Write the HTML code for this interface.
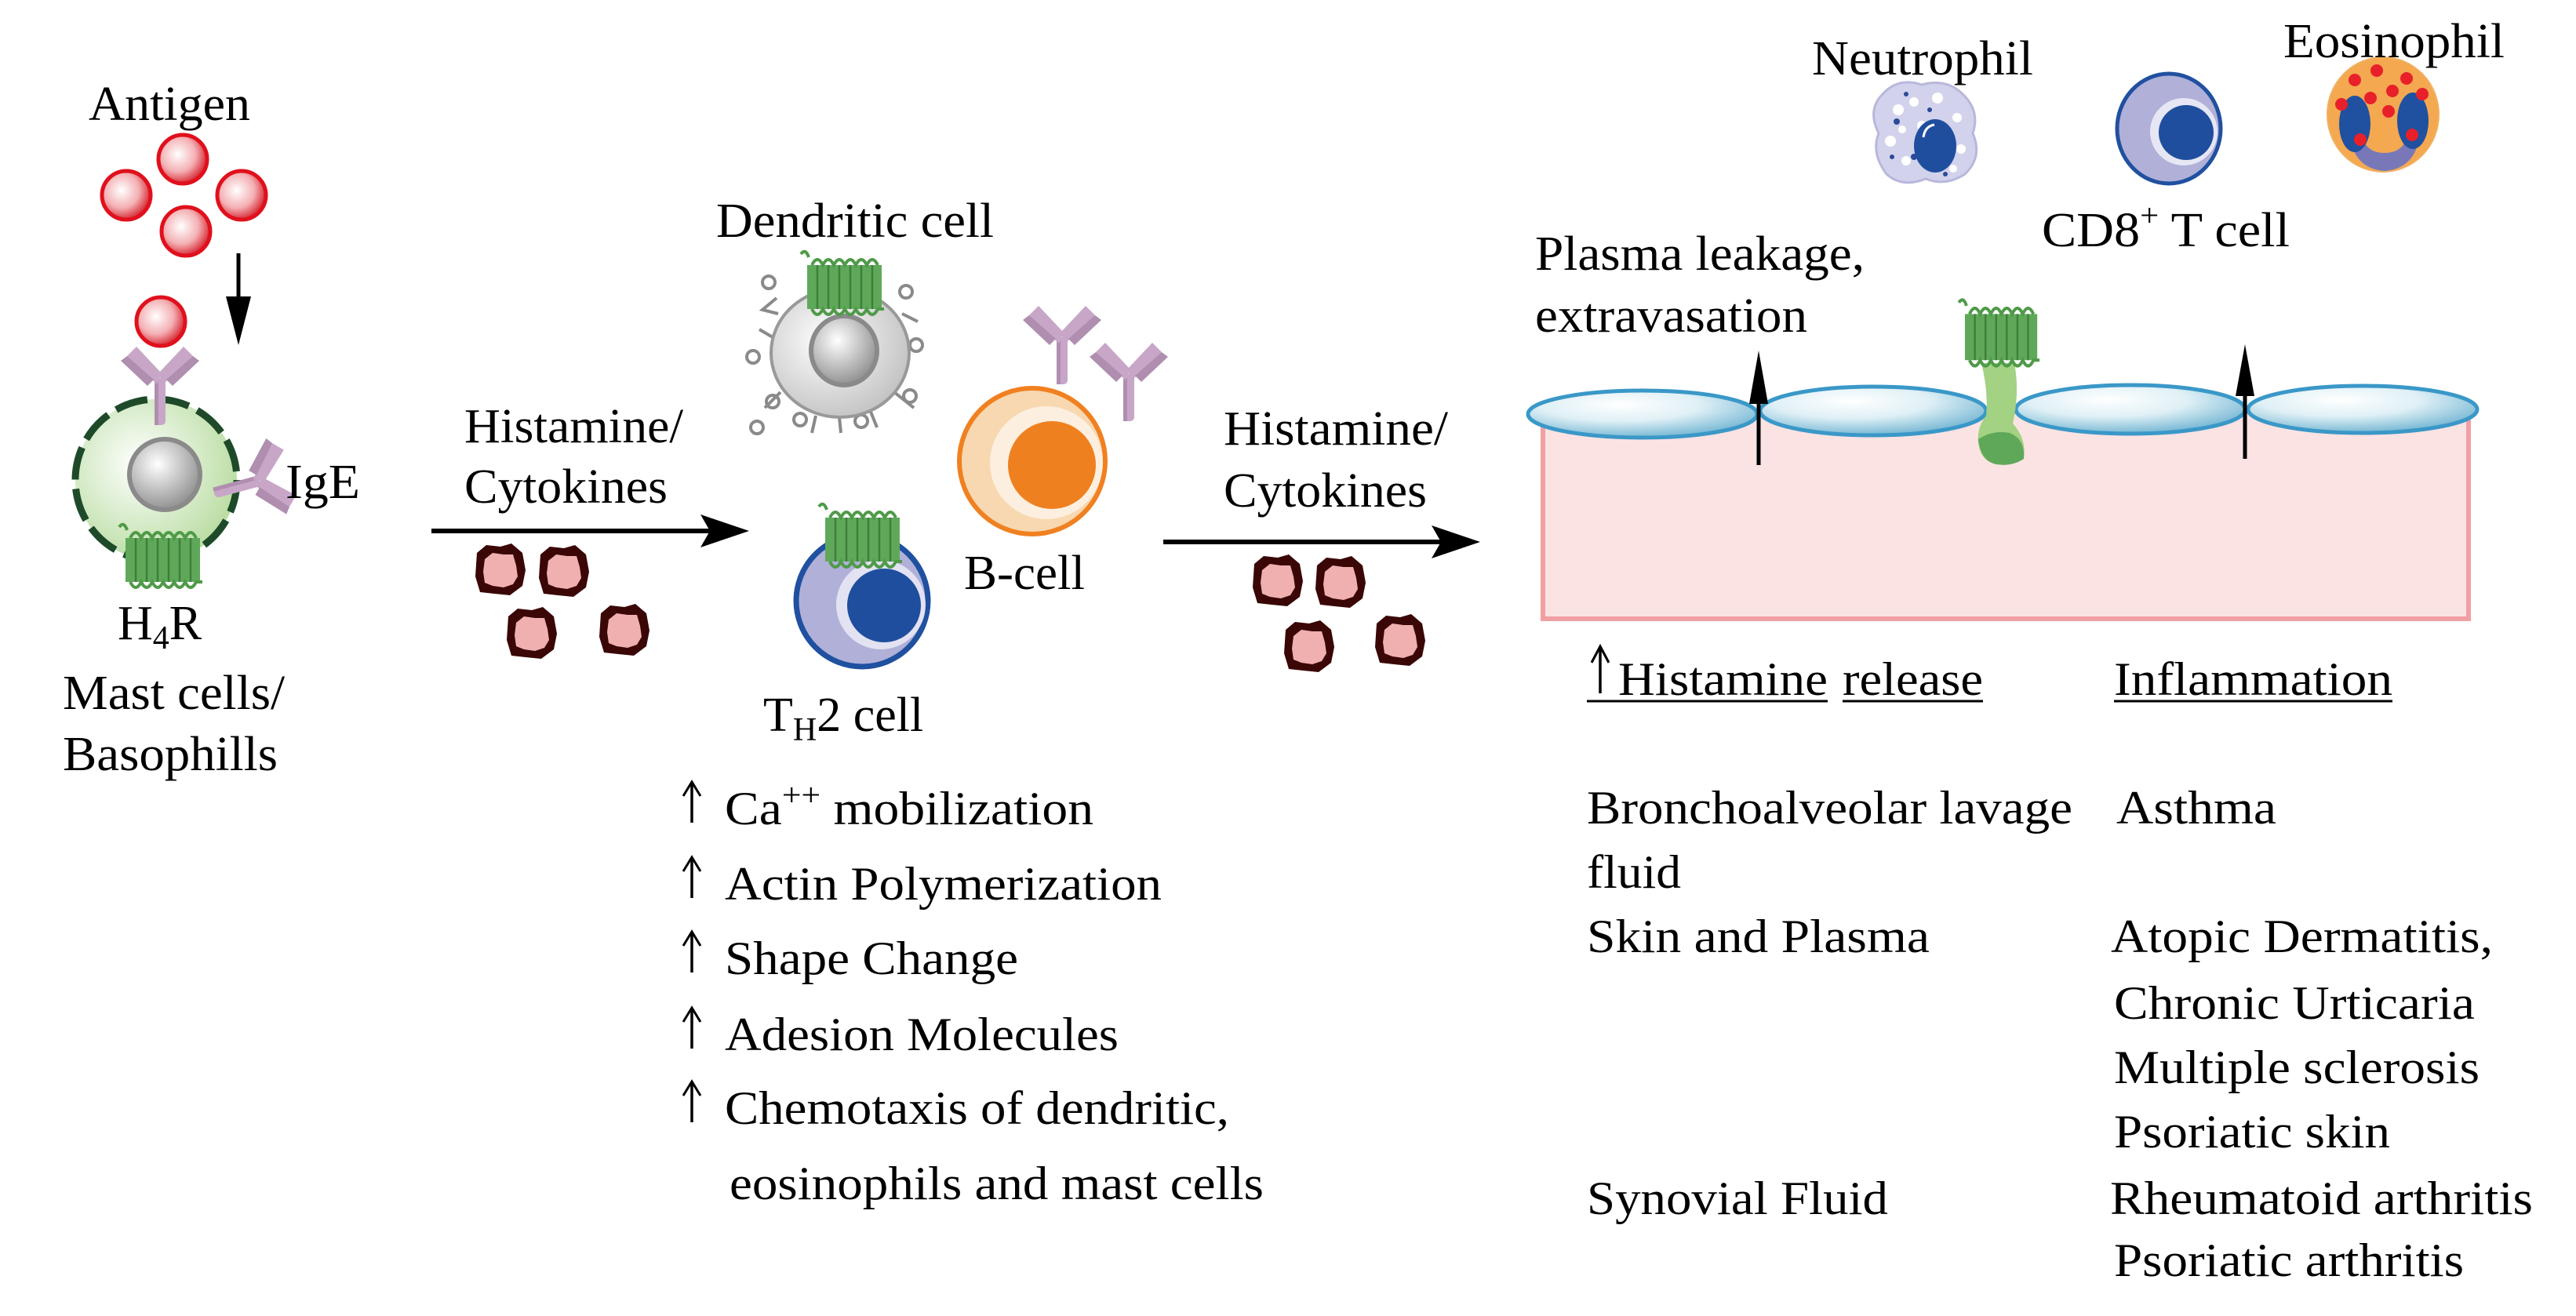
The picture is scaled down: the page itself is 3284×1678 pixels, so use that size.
<!DOCTYPE html>
<html><head><meta charset="utf-8"><style>html,body{margin:0;padding:0;background:#fff}svg{display:block}svg text{font-family:"Liberation Serif","DejaVu Serif",serif}</style></head>
<body>
<svg width="3284" height="1678" viewBox="0 0 3284 1678" xmlns="http://www.w3.org/2000/svg" font-size="62">
<defs>
<radialGradient id="rb" cx="0.4" cy="0.4" r="0.6"><stop offset="0" stop-color="#fff"/><stop offset="0.6" stop-color="#f4b0b4"/><stop offset="1" stop-color="#d8303a"/></radialGradient>
<radialGradient id="mg" cx="0.4" cy="0.4" r="0.65"><stop offset="0" stop-color="#ffffff"/><stop offset="1" stop-color="#b8dca0"/></radialGradient>
<radialGradient id="gn" cx="0.4" cy="0.35" r="0.7"><stop offset="0" stop-color="#fff"/><stop offset="1" stop-color="#8a8a8a"/></radialGradient>
<radialGradient id="dg" cx="0.4" cy="0.4" r="0.7"><stop offset="0" stop-color="#fff"/><stop offset="1" stop-color="#bdbdbd"/></radialGradient>
<radialGradient id="el" cx="0.4" cy="0.3" r="0.7"><stop offset="0" stop-color="#ffffff"/><stop offset="0.5" stop-color="#dff0f6"/><stop offset="1" stop-color="#78b8d4"/></radialGradient>
<g id="rec">
<rect x="0" y="8" width="95" height="56" fill="#5fa85a"/>
<g stroke="#3f7f3a" stroke-width="2.5"><line x1="13" y1="8" x2="13" y2="64"/><line x1="27" y1="8" x2="27" y2="64"/><line x1="41" y1="8" x2="41" y2="64"/><line x1="55" y1="8" x2="55" y2="64"/><line x1="69" y1="8" x2="69" y2="64"/><line x1="83" y1="8" x2="83" y2="64"/></g>
<path d="M-8 -6 q6 -8 10 4 M6 8 q7 -14 14 0 q7 -14 14 0 q7 -14 14 0 q7 -14 14 0 q7 -14 14 0 q7 -14 14 0 M6 64 q7 14 14 0 q7 14 14 0 q7 14 14 0 q7 14 14 0 q7 14 14 0 q7 14 14 0 l8 0" fill="none" stroke="#4f9a48" stroke-width="4"/>
</g>
<g id="ab">
<rect x="-7" y="-58" width="14" height="60" rx="5" fill="#c8a6c8"/>
<rect x="-7" y="-58" width="5" height="60" fill="#b08eb0"/>
<path d="M-4 -50 L-42 -86 L-30 -98 L2 -64 Z" fill="#c8a6c8"/>
<path d="M4 -50 L42 -86 L30 -98 L-2 -64 Z" fill="#c8a6c8"/>
<path d="M-42 -86 L-50 -80 L-16 -48 L-8 -56 Z" fill="#b08eb0"/>
<path d="M42 -86 L50 -80 L16 -48 L8 -56 Z" fill="#b08eb0"/>
</g>
<g id="cy">
<path d="M-30 -22 L-18 -32 L0 -30 L14 -34 L28 -22 L32 0 L28 20 L12 32 L-8 30 L-26 28 L-32 8 Z" fill="#3a0606"/>
<path d="M-20 -14 L-10 -22 L4 -20 L16 -20 L20 -6 L22 8 L16 18 L4 22 L-10 20 L-20 16 L-22 2 Z" fill="#f0b0b0"/>
</g>
<g id="up">
<line x1="0" y1="0" x2="0" y2="-50" stroke="#000" stroke-width="3.5"/>
<path d="M-11 -34 L0 -52 L11 -34" fill="none" stroke="#000" stroke-width="3"/>
</g>
</defs>

<!-- LEFT -->
<text x="113" y="153" textLength="206" lengthAdjust="spacingAndGlyphs">Antigen</text>
<circle cx="233" cy="203" r="31" fill="url(#rb)" stroke="#e0101c" stroke-width="5"/>
<circle cx="161" cy="249" r="31" fill="url(#rb)" stroke="#e0101c" stroke-width="5"/>
<circle cx="308" cy="249" r="31" fill="url(#rb)" stroke="#e0101c" stroke-width="5"/>
<circle cx="237" cy="295" r="31" fill="url(#rb)" stroke="#e0101c" stroke-width="5"/>
<circle cx="205" cy="410" r="31" fill="url(#rb)" stroke="#e0101c" stroke-width="5"/>
<line x1="304" y1="323" x2="304" y2="405" stroke="#000" stroke-width="5"/>
<polygon points="288,378 320,378 304,440" fill="#000"/>

<circle cx="199" cy="612" r="103" fill="url(#mg)" stroke="#1e4a2a" stroke-width="9" stroke-dasharray="42 12"/>
<circle cx="210" cy="605" r="45" fill="url(#gn)" stroke="#8a8a8a" stroke-width="6"/>
<use href="#ab" transform="translate(204,540)"/>
<use href="#ab" transform="translate(275,628) rotate(75)"/>
<use href="#rec" transform="translate(160,678)"/>
<text x="364" y="635" textLength="95" lengthAdjust="spacingAndGlyphs">IgE</text>
<text x="150" y="815">H<tspan font-size="42" dy="12">4</tspan><tspan dy="-12">R</tspan></text>
<text x="80" y="904" textLength="283" lengthAdjust="spacingAndGlyphs">Mast cells/</text>
<text x="80" y="982" textLength="274" lengthAdjust="spacingAndGlyphs">Basophills</text>

<text x="592" y="564" textLength="279" lengthAdjust="spacingAndGlyphs">Histamine/</text>
<text x="592" y="641" textLength="259" lengthAdjust="spacingAndGlyphs">Cytokines</text>
<line x1="550" y1="677" x2="915" y2="677" stroke="#000" stroke-width="6"/>
<polygon points="893,656 955,677 893,698 905,677" fill="#000"/>
<use href="#cy" transform="translate(638,727)"/>
<use href="#cy" transform="translate(719,729)"/>
<use href="#cy" transform="translate(678,808)"/>
<use href="#cy" transform="translate(796,804)"/>

<!-- MIDDLE -->
<text x="913" y="302" textLength="354" lengthAdjust="spacingAndGlyphs">Dendritic cell</text>
<g stroke="#8a8a8a" stroke-width="4" fill="#fff">
<circle cx="980" cy="360" r="8"/><circle cx="1155" cy="372" r="8"/><circle cx="1168" cy="440" r="8"/><circle cx="1160" cy="505" r="8"/><circle cx="965" cy="545" r="8"/><circle cx="985" cy="512" r="8"/><circle cx="1020" cy="535" r="8"/><circle cx="1098" cy="537" r="8"/><circle cx="960" cy="455" r="8"/>
<path d="M990 380 L972 395 L992 400 M1150 400 L1170 410 M995 500 L975 520 M1140 500 L1165 520 M1070 532 L1072 552 M1040 530 L1035 552 M1110 525 L1118 545 M985 430 L968 420" fill="none"/>
</g>
<ellipse cx="1071" cy="450" rx="88" ry="82" fill="url(#dg)" stroke="#999" stroke-width="4"/>
<ellipse cx="1076" cy="447" rx="42" ry="44" fill="url(#gn)" stroke="#8a8a8a" stroke-width="6"/>
<use href="#rec" transform="translate(1029,330)"/>

<use href="#ab" transform="translate(1354,488)"/>
<use href="#ab" transform="translate(1439,535)"/>
<circle cx="1316" cy="588" r="93" fill="#f8d8b0" stroke="#f08020" stroke-width="6"/>
<circle cx="1334" cy="590" r="72" fill="#fdefe0"/>
<circle cx="1341" cy="593" r="56" fill="#ef8020"/>
<text x="1229" y="751" textLength="154" lengthAdjust="spacingAndGlyphs">B-cell</text>

<ellipse cx="1099" cy="766" rx="84" ry="84" fill="#b0b0d8" stroke="#2050a0" stroke-width="7"/>
<circle cx="1123" cy="771" r="57" fill="#e2e2f2"/>
<circle cx="1127" cy="772" r="47" fill="#1f4e9e"/>
<use href="#rec" transform="translate(1052,652)"/>
<text x="973" y="932">T<tspan font-size="42" dy="12">H</tspan><tspan dy="-12">2 cell</tspan></text>

<text x="1560" y="567" textLength="286" lengthAdjust="spacingAndGlyphs">Histamine/</text>
<text x="1560" y="646" textLength="259" lengthAdjust="spacingAndGlyphs">Cytokines</text>
<line x1="1483" y1="691" x2="1850" y2="691" stroke="#000" stroke-width="6"/>
<polygon points="1825,670 1887,691 1825,712 1837,691" fill="#000"/>
<use href="#cy" transform="translate(1629,741)"/>
<use href="#cy" transform="translate(1709,743)"/>
<use href="#cy" transform="translate(1669,825)"/>
<use href="#cy" transform="translate(1785,817)"/>

<g font-size="60">
<use href="#up" transform="translate(882,1049)"/><text x="924" y="1051" textLength="470" lengthAdjust="spacingAndGlyphs">Ca<tspan font-size="40" dy="-24">++</tspan><tspan dy="24"> mobilization</tspan></text>
<use href="#up" transform="translate(882,1145)"/><text x="924" y="1147" textLength="557" lengthAdjust="spacingAndGlyphs">Actin Polymerization</text>
<use href="#up" transform="translate(882,1240)"/><text x="924" y="1242" textLength="374" lengthAdjust="spacingAndGlyphs">Shape Change</text>
<use href="#up" transform="translate(882,1337)"/><text x="924" y="1339" textLength="502" lengthAdjust="spacingAndGlyphs">Adesion Molecules</text>
<use href="#up" transform="translate(882,1431)"/><text x="924" y="1433" textLength="643" lengthAdjust="spacingAndGlyphs">Chemotaxis of dendritic,</text>
<text x="930" y="1529" textLength="681" lengthAdjust="spacingAndGlyphs">eosinophils and mast cells</text>
</g>

<!-- RIGHT -->
<text x="2310" y="95" textLength="282" lengthAdjust="spacingAndGlyphs">Neutrophil</text>
<path d="M2400 120 Q2420 98 2450 108 Q2480 100 2500 118 Q2525 140 2515 170 Q2528 200 2505 222 Q2480 238 2455 228 Q2425 240 2405 222 Q2385 195 2395 170 Q2380 140 2400 120 Z" fill="#d2d2ec" stroke="#b8b8dc" stroke-width="3"/>
<g fill="#fff"><circle cx="2420" cy="140" r="7"/><circle cx="2440" cy="130" r="6"/><circle cx="2470" cy="125" r="7"/><circle cx="2495" cy="150" r="6"/><circle cx="2410" cy="180" r="7"/><circle cx="2430" cy="205" r="6"/><circle cx="2500" cy="190" r="6"/><circle cx="2490" cy="215" r="5"/><circle cx="2450" cy="160" r="6"/><circle cx="2425" cy="165" r="5"/></g>
<g fill="#2a4a9a"><circle cx="2418" cy="155" r="4"/><circle cx="2440" cy="200" r="4"/><circle cx="2460" cy="140" r="3"/><circle cx="2412" cy="200" r="3"/><circle cx="2480" cy="222" r="3"/><circle cx="2430" cy="120" r="3"/></g>
<ellipse cx="2467" cy="186" rx="27" ry="34" fill="#1f4e9e"/>
<path d="M2452 175 q2 -14 14 -16" stroke="#fff" stroke-width="3" fill="none"/>

<ellipse cx="2765" cy="164" rx="66" ry="70" fill="#b0b0d8" stroke="#2050a0" stroke-width="5"/>
<circle cx="2784" cy="168" r="43" fill="#e6e6f4"/>
<circle cx="2787" cy="169" r="35" fill="#1f4e9e"/>
<text x="2603" y="314" textLength="316" lengthAdjust="spacingAndGlyphs">CD8<tspan font-size="40" dy="-26">+</tspan><tspan dy="26"> T cell</tspan></text>

<ellipse cx="3038" cy="146" rx="71" ry="73" fill="#f4a850" stroke="#f0b060" stroke-width="2"/>
<path d="M2995 170 Q3000 215 3040 218 Q3080 215 3085 170 L3070 170 Q3065 195 3040 195 Q3015 195 3010 170 Z" fill="#7878b8"/>
<ellipse cx="3002" cy="158" rx="20" ry="36" fill="#2050a0"/>
<ellipse cx="3076" cy="154" rx="20" ry="36" fill="#2050a0"/>
<g fill="#e8202a"><circle cx="3002" cy="102" r="8"/><circle cx="3030" cy="90" r="8"/><circle cx="3068" cy="100" r="8"/><circle cx="3050" cy="116" r="8"/><circle cx="3088" cy="120" r="8"/><circle cx="3022" cy="125" r="8"/><circle cx="3045" cy="142" r="8"/><circle cx="2985" cy="133" r="8"/><circle cx="3009" cy="178" r="8"/><circle cx="3075" cy="172" r="8"/></g>
<text x="2911" y="73" textLength="282" lengthAdjust="spacingAndGlyphs">Eosinophil</text>

<text x="1957" y="344" textLength="420" lengthAdjust="spacingAndGlyphs">Plasma leakage,</text>
<text x="1957" y="423" textLength="347" lengthAdjust="spacingAndGlyphs">extravasation</text>

<rect x="1967" y="525" width="1180" height="264" fill="#fbe3e3" stroke="#f0a0a4" stroke-width="6"/>
<ellipse cx="2094" cy="528" rx="146" ry="30" fill="url(#el)" stroke="#3a98c8" stroke-width="5"/>
<ellipse cx="2388" cy="524" rx="144" ry="31" fill="url(#el)" stroke="#3a98c8" stroke-width="5"/>
<ellipse cx="2716" cy="522" rx="146" ry="31" fill="url(#el)" stroke="#3a98c8" stroke-width="5"/>
<ellipse cx="3012" cy="522" rx="146" ry="30" fill="url(#el)" stroke="#3a98c8" stroke-width="5"/>
<path d="M2526 463 L2568 463 Q2575 500 2566 540 Q2584 560 2580 585 Q2565 595 2545 592 Q2525 588 2522 565 Q2520 545 2532 530 Q2535 500 2526 463 Z" fill="#a2d282"/>
<path d="M2522 560 Q2540 548 2562 552 Q2582 560 2580 585 Q2565 595 2545 592 Q2525 588 2522 560 Z" fill="#5fa85a"/>
<use href="#rec" transform="translate(2505,392) scale(0.97,1.05)"/>
<line x1="2242" y1="593" x2="2242" y2="490" stroke="#000" stroke-width="5"/>
<polygon points="2230,515 2254,515 2242,447" fill="#000"/>
<line x1="2862" y1="585" x2="2862" y2="480" stroke="#000" stroke-width="5"/>
<polygon points="2850,505 2874,505 2862,439" fill="#000"/>

<g font-size="60">
<use href="#up" transform="translate(2040,884) scale(1,1.15)"/>
<text x="2063" y="886" textLength="267" lengthAdjust="spacingAndGlyphs">Histamine</text><text x="2349" y="886" textLength="179" lengthAdjust="spacingAndGlyphs">release</text>
<text x="2695" y="886" textLength="355" lengthAdjust="spacingAndGlyphs">Inflammation</text>
<g stroke="#000" stroke-width="3"><line x1="2023" y1="894" x2="2330" y2="894"/><line x1="2349" y1="894" x2="2528" y2="894"/><line x1="2695" y1="894" x2="3050" y2="894"/></g>
<text x="2023" y="1050" textLength="619" lengthAdjust="spacingAndGlyphs">Bronchoalveolar lavage</text>
<text x="2023" y="1132" textLength="120" lengthAdjust="spacingAndGlyphs">fluid</text>
<text x="2023" y="1214" textLength="437" lengthAdjust="spacingAndGlyphs">Skin and Plasma</text>
<text x="2023" y="1548" textLength="384" lengthAdjust="spacingAndGlyphs">Synovial Fluid</text>
<text x="2698" y="1050" textLength="204" lengthAdjust="spacingAndGlyphs">Asthma</text>
<text x="2691" y="1214" textLength="487" lengthAdjust="spacingAndGlyphs">Atopic Dermatitis,</text>
<text x="2695" y="1299" textLength="460" lengthAdjust="spacingAndGlyphs">Chronic Urticaria</text>
<text x="2695" y="1381" textLength="466" lengthAdjust="spacingAndGlyphs">Multiple sclerosis</text>
<text x="2695" y="1463" textLength="352" lengthAdjust="spacingAndGlyphs">Psoriatic skin</text>
<text x="2690" y="1548" textLength="539" lengthAdjust="spacingAndGlyphs">Rheumatoid arthritis</text>
<text x="2695" y="1627" textLength="446" lengthAdjust="spacingAndGlyphs">Psoriatic arthritis</text>
</g>
</svg>
</body></html>
